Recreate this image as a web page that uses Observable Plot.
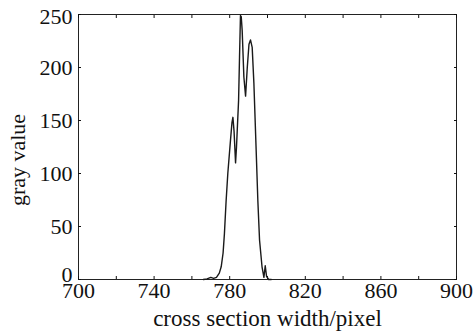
<!DOCTYPE html>
<html>
<head>
<meta charset="utf-8">
<script src="https://cdn.jsdelivr.net/npm/d3@7"></script>
<script src="https://cdn.jsdelivr.net/npm/@observablehq/plot@0.6"></script>
<style>
  html, body { margin: 0; padding: 0; background: #fff; }
</style>
</head>
<body>
<div id="chart"></div>
<script>
const xTitle = "cross section width/pixel";
const yTitle = "gray value";
const xTickMarks = [700, 720, 740, 760, 780, 800, 820, 840, 860, 880, 900];
const xTickLabels = [700, 740, 780, 820, 860, 900];
const yTickMarks = [0, 50, 100, 150, 200, 250];
const yTickLabelsMid = [50, 100, 150, 200];
const yTickLabelBottom = [0];
const yTickLabelTop = [250];

const pixel = [766, 768, 770, 771.5, 773, 774.5, 775.5, 776.5, 777.2, 778.1, 779, 780.4, 781.2, 781.7, 782.3, 783.1, 783.6, 784.1, 784.7, 785.2, 785.7, 786.1, 786.6, 787.5, 788.4, 789.3, 790.2, 791, 791.9, 792.8, 794, 794.9, 795.8, 797.1, 798.1, 798.8, 799.5, 800.6, 802];
const gray  = [0, 0.5, 2, 1, 2, 6, 12, 25, 43, 74, 100, 131, 148, 153, 140, 110, 125, 145, 169, 210, 249, 248, 235, 191, 173, 200, 222, 226, 219, 185, 122, 74, 37, 12, 2, 13, 3, 0, 0];

const data = pixel.map((p, i) => ({x: p, y: gray[i]}));
const blank = () => "";

const chart = Plot.plot({
  width: 474,
  height: 331,
  marginLeft: 78,
  marginRight: 18,
  marginTop: 14,
  marginBottom: 52,
  style: {fontFamily: "'Liberation Serif', 'Times New Roman', serif", fontSize: "22px", background: "#fff", color: "#111"},
  x: {domain: [700, 900]},
  y: {domain: [0, 250]},
  marks: [
    Plot.frame({stroke: "#222"}),
    Plot.axisX(xTickMarks, {anchor: "bottom", tickSize: -3, tickFormat: blank, label: null}),
    Plot.axisX(xTickMarks, {anchor: "top", tickSize: -3, tickFormat: blank, label: null}),
    Plot.axisX(xTickLabels, {anchor: "bottom", tickSize: 0, tickPadding: 3, label: null, fontSize: 22}),
    Plot.axisY(yTickMarks, {anchor: "left", tickSize: -3, tickFormat: blank, label: null}),
    Plot.axisY(yTickMarks, {anchor: "right", tickSize: -3, tickFormat: blank, label: null}),
    Plot.axisY(yTickLabelsMid, {anchor: "left", tickSize: 0, tickPadding: 6, label: null, fontSize: 22}),
    Plot.axisY(yTickLabelBottom, {anchor: "left", tickSize: 0, tickPadding: 6, dy: -5, label: null, fontSize: 22}),
    Plot.axisY(yTickLabelTop, {anchor: "left", tickSize: 0, tickPadding: 6, dy: 2, label: null, fontSize: 22}),
    Plot.line(data, {x: "x", y: "y", stroke: "#1a1a1a", strokeWidth: 1.4}),
    Plot.text([xTitle], {frameAnchor: "bottom", dy: 39, textAnchor: "middle", lineAnchor: "middle", fontSize: 23}),
    Plot.text([yTitle], {frameAnchor: "left", rotate: -90, dx: -61, dy: 13, textAnchor: "middle", lineAnchor: "middle", fontSize: 22})
  ]
});
document.getElementById("chart").appendChild(chart);
</script>
</body>
</html>
